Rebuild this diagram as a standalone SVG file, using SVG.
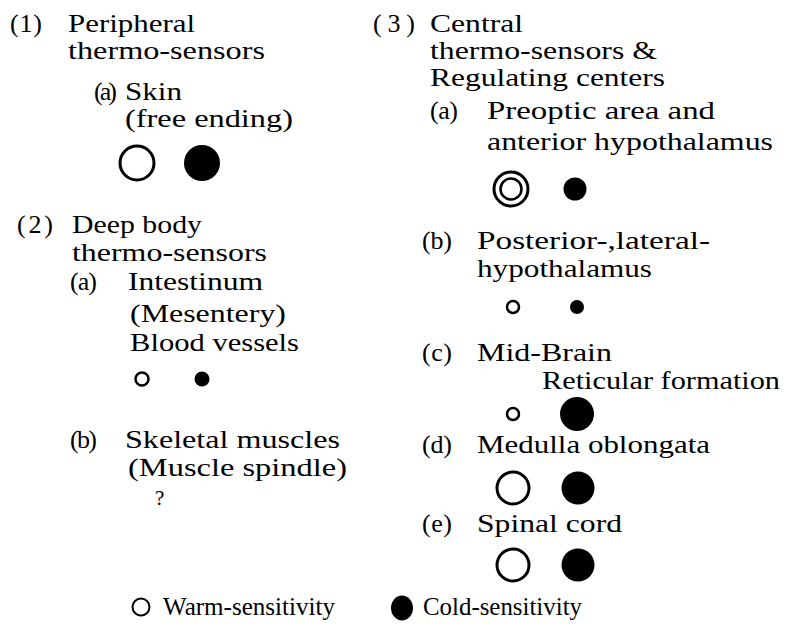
<svg xmlns="http://www.w3.org/2000/svg" width="795" height="641" viewBox="0 0 795 641">
<style>
text{font-family:"Liberation Serif","Times New Roman",serif;font-size:26px;fill:#000}
text.q{font-size:21px}
.w{fill:#fff;stroke:#000;stroke-width:3}
.ws{fill:#fff;stroke:#000;stroke-width:2.5}
.c{fill:#000}
</style>
<rect width="795" height="641" fill="#fff"/>
<g id="peripheral">
<text x="10" y="32" textLength="32" lengthAdjust="spacing">(1)</text>
<text x="68" y="32" textLength="127" lengthAdjust="spacingAndGlyphs">Peripheral</text>
<text x="68" y="59" textLength="197" lengthAdjust="spacingAndGlyphs">thermo-sensors</text>
</g>
<g id="skin">
<text x="94" y="100" textLength="23" lengthAdjust="spacing">(a)</text>
<text x="125" y="100" textLength="57" lengthAdjust="spacingAndGlyphs">Skin</text>
<text x="125" y="127" textLength="168" lengthAdjust="spacingAndGlyphs">(free ending)</text>
<circle class="w" cx="137" cy="163" r="17"/>
<circle class="c" cx="202" cy="163" r="18"/>
</g>
<g id="deep">
<text x="17" y="233" textLength="36" lengthAdjust="spacing">(2)</text>
<text x="72" y="233" textLength="130" lengthAdjust="spacingAndGlyphs">Deep body</text>
<text x="72" y="261" textLength="195" lengthAdjust="spacingAndGlyphs">thermo-sensors</text>
</g>
<g id="intestinum">
<text x="70" y="290" textLength="27" lengthAdjust="spacing">(a)</text>
<text x="128" y="290" textLength="135" lengthAdjust="spacingAndGlyphs">Intestinum</text>
<text x="130" y="322" textLength="156" lengthAdjust="spacingAndGlyphs">(Mesentery)</text>
<text x="130" y="351" textLength="169" lengthAdjust="spacingAndGlyphs">Blood vessels</text>
<circle class="ws" cx="142" cy="379" r="6.5"/>
<circle class="c" cx="202" cy="379" r="7.5"/>
</g>
<g id="skeletal">
<text x="70" y="448" textLength="27" lengthAdjust="spacing">(b)</text>
<text x="125" y="448" textLength="215" lengthAdjust="spacingAndGlyphs">Skeletal muscles</text>
<text x="128" y="476" textLength="219" lengthAdjust="spacingAndGlyphs">(Muscle spindle)</text>
<text class="q" x="155" y="505">?</text>
</g>
<g id="central">
<text x="373" y="32" textLength="42" lengthAdjust="spacing">(3)</text>
<text x="430" y="32" textLength="93" lengthAdjust="spacingAndGlyphs">Central</text>
<text x="430" y="59" textLength="227" lengthAdjust="spacingAndGlyphs">thermo-sensors &amp;</text>
<text x="430" y="86" textLength="235" lengthAdjust="spacingAndGlyphs">Regulating centers</text>
</g>
<g id="preoptic">
<text x="430" y="119" textLength="28" lengthAdjust="spacing">(a)</text>
<text x="487" y="119" textLength="228" lengthAdjust="spacingAndGlyphs">Preoptic area and</text>
<text x="487" y="150" textLength="286" lengthAdjust="spacingAndGlyphs">anterior hypothalamus</text>
<circle class="w" cx="511" cy="189" r="17"/>
<circle class="w" cx="511" cy="189" r="10.5" style="stroke-width:2.5"/>
<circle class="c" cx="575" cy="189" r="11.5"/>
</g>
<g id="posterior">
<text x="422" y="249" textLength="30" lengthAdjust="spacing">(b)</text>
<text x="477" y="249" textLength="233" lengthAdjust="spacingAndGlyphs">Posterior-,lateral-</text>
<text x="477" y="277" textLength="175" lengthAdjust="spacingAndGlyphs">hypothalamus</text>
<circle class="ws" cx="513" cy="307" r="6"/>
<circle class="c" cx="577" cy="307" r="7"/>
</g>
<g id="midbrain">
<text x="422" y="361" textLength="30" lengthAdjust="spacing">(c)</text>
<text x="477" y="361" textLength="135" lengthAdjust="spacingAndGlyphs">Mid-Brain</text>
<text x="542" y="389" textLength="238" lengthAdjust="spacingAndGlyphs">Reticular formation</text>
<circle class="ws" cx="513" cy="414" r="6"/>
<circle class="c" cx="577" cy="414" r="17"/>
</g>
<g id="medulla">
<text x="422" y="453" textLength="30" lengthAdjust="spacing">(d)</text>
<text x="477" y="453" textLength="233" lengthAdjust="spacingAndGlyphs">Medulla oblongata</text>
<circle class="w" cx="513" cy="488" r="16"/>
<circle class="c" cx="578" cy="488" r="16.5"/>
</g>
<g id="spinal">
<text x="422" y="532" textLength="30" lengthAdjust="spacing">(e)</text>
<text x="477" y="532" textLength="145" lengthAdjust="spacingAndGlyphs">Spinal cord</text>
<circle class="w" cx="513" cy="565" r="16"/>
<circle class="c" cx="578" cy="565" r="16.5"/>
</g>
<g id="legend">
<circle class="ws" cx="141" cy="607" r="8.5" style="stroke-width:2"/>
<text x="163" y="615" textLength="172" lengthAdjust="spacingAndGlyphs">Warm-sensitivity</text>
<ellipse class="c" cx="402" cy="608" rx="11" ry="12.5"/>
<text x="423" y="615" textLength="159" lengthAdjust="spacingAndGlyphs">Cold-sensitivity</text>
</g>
<g id="connectors"/>
</svg>
